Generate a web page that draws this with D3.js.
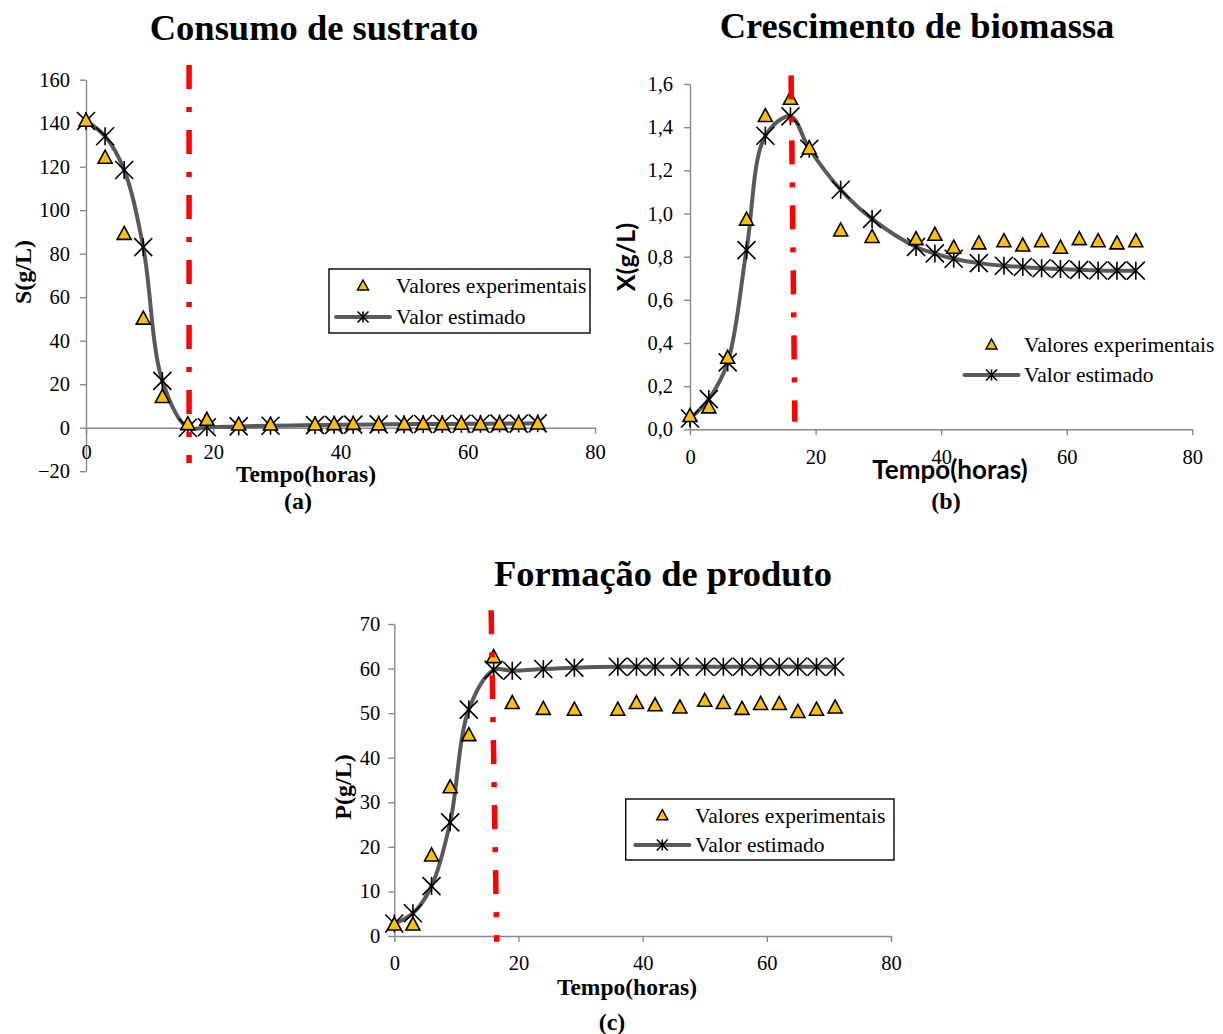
<!DOCTYPE html>
<html>
<head>
<meta charset="utf-8">
<script src="https://cdn.jsdelivr.net/npm/d3@7"></script>
<style>
  body { margin: 0; background: #fff; }
  svg { display: block; }
</style>
</head>
<body>
<div id="chart"></div>
<script>
// sampling times (h), shared by the three panels
const timeHours = [0, 3, 6, 9, 12, 16, 19, 24, 29, 36, 39, 42, 46, 50, 53, 56, 59, 62, 65, 68, 71];

// (a) substrate S (g/L)
const substrateExp = [141, 124, 89, 50, 14, 1.5, 3.5, 1.3, 1.3, 1.3, 1.5, 1.6, 1.4, 1.5, 1.6, 1.5, 1.7, 1.5, 1.6, 1.8, 1.8];
const substrateEst = [141, 134, 118.5, 83, 21.5, 0, 0.2, 0.6, 0.9, 1.2, 1.3, 1.4, 1.5, 1.6, 1.7, 1.7, 1.8, 1.8, 1.9, 1.9, 2];

// (b) biomass X (g/L)
const biomassExp = [0.06, 0.10, 0.33, 0.97, 1.45, 1.53, 1.30, 0.92, 0.89, 0.88, 0.90, 0.84, 0.86, 0.87, 0.85, 0.87, 0.84, 0.88, 0.87, 0.86, 0.87];
const biomassEst = [0.05, 0.14, 0.31, 0.83, 1.36, 1.45, 1.30, 1.11, 0.975, 0.845, 0.815, 0.79, 0.77, 0.758, 0.752, 0.746, 0.743, 0.739, 0.736, 0.735, 0.735];

// (c) product P (g/L)
const productExp = [2.5, 2.5, 18, 33.3, 45, 62.5, 52.2, 50.9, 50.7, 50.7, 52.2, 51.7, 51.2, 52.7, 52.2, 50.9, 52, 52, 50.2, 50.7, 51.2];
const productEst = [2.8, 5.1, 11.2, 25.5, 50.8, 59.7, 59.5, 59.9, 60.2, 60.4, 60.4, 60.4, 60.4, 60.4, 60.4, 60.4, 60.4, 60.4, 60.4, 60.4, 60.4];

// tick values
const timeTicks = [0, 20, 40, 60, 80];
const substrateTicks = [-20, 0, 20, 40, 60, 80, 100, 120, 140, 160];
const biomassTicks = [0, 0.2, 0.4, 0.6, 0.8, 1.0, 1.2, 1.4, 1.6];
const productTicks = [0, 10, 20, 30, 40, 50, 60, 70];

const legendLabels = ["Valores experimentais", "Valor estimado"];

// red dash-dot marker (start of stationary phase), [time, value] top and bottom
const cutSubstrate = [[16.2, 166.8], [16.2, -16.2]];
const cutBiomass = [[16.1, 1.64], [16.7, 0.035]];
const cutProduct = [[15.6, 73.1], [16.5, -1.3]];

const serif = "'Liberation Serif', 'Times New Roman', serif";
const sans = "Lato, 'Open Sans', sans-serif";
const axisGray = "#898989";
const lineGray = "#595959";
const gold = "#FFC000";

const svg = d3.select("#chart").append("svg")
  .attr("width", 1223)
  .attr("height", 1034)
  .style("background", "#fff");

function trianglePath(w, h) {
  return `M0,${-h * 0.6}L${w / 2},${h * 0.4}L${-w / 2},${h * 0.4}Z`;
}

function starPath(r) {
  return `M${-r},${-r}L${r},${r}M${-r},${r}L${r},${-r}M0,${-r}L0,${r}`;
}

function drawPanel(cfg) {
  const g = svg.append("g");

  const x = d3.scaleLinear().domain([0, 80]).range(cfg.xRange);
  const y = d3.scaleLinear().domain(cfg.yDomain).range(cfg.yRange);

  // y axis
  const yAxis = g.append("g")
    .attr("transform", `translate(${x(0)},0)`)
    .call(d3.axisLeft(y).tickValues(cfg.yTicks).tickSize(6).tickSizeOuter(0)
      .tickPadding(cfg.yPad).tickFormat(cfg.yFormat));

  // x axis crosses at y = 0
  const xAxis = g.append("g")
    .attr("transform", `translate(0,${y(0)})`)
    .call(d3.axisBottom(x).tickValues(timeTicks).tickSize(6).tickSizeOuter(0)
      .tickPadding(cfg.xPad).tickFormat(d3.format("d")));

  [yAxis, xAxis].forEach(a => {
    a.attr("font-family", serif).attr("font-size", 20.5);
    a.select(".domain").attr("stroke", axisGray).attr("stroke-width", 1.4);
    a.selectAll(".tick line").attr("stroke", axisGray).attr("stroke-width", 1.4);
    a.selectAll(".tick text").attr("fill", "#000");
  });

  const pts = timeHours.map((t, i) => ({ t: t, exp: cfg.exp[i], est: cfg.est[i] }));

  // fitted curve
  const line = d3.line()
    .x(d => x(d.t))
    .y(d => y(d.est))
    .curve(d3.curveCatmullRom.alpha(0.5));

  g.append("path")
    .datum(pts)
    .attr("d", line)
    .attr("fill", "none")
    .attr("stroke", lineGray)
    .attr("stroke-width", 4);

  g.selectAll(".star")
    .data(pts)
    .enter()
    .append("path")
    .attr("class", "star")
    .attr("transform", d => `translate(${x(d.t)},${y(d.est)})`)
    .attr("d", starPath(9))
    .attr("fill", "none")
    .attr("stroke", "#000")
    .attr("stroke-width", 1.6);

  g.selectAll(".tri")
    .data(pts)
    .enter()
    .append("path")
    .attr("class", "tri")
    .attr("transform", d => `translate(${x(d.t)},${y(d.exp)})`)
    .attr("d", trianglePath(14, 13))
    .attr("fill", gold)
    .attr("stroke", "#000")
    .attr("stroke-width", 1.6)
    .attr("stroke-linejoin", "miter");

  // red dash-dot line
  g.append("path")
    .datum(cfg.cut)
    .attr("d", d3.line().x(d => x(d[0])).y(d => y(d[1])))
    .attr("stroke", "#FF0000")
    .attr("stroke-width", 5.5)
    .attr("stroke-dasharray", "24,18,5,18")
    .attr("fill", "none");

  // title
  svg.append("text")
    .attr("x", cfg.title.x)
    .attr("y", cfg.title.y)
    .attr("text-anchor", "middle")
    .attr("font-family", serif)
    .attr("font-weight", "bold")
    .attr("font-size", 36.5)
    .text(cfg.title.text);

  // y label
  svg.append("text")
    .attr("transform", `translate(${cfg.yLabel.x},${cfg.yLabel.y}) rotate(-90)`)
    .attr("text-anchor", "middle")
    .attr("font-family", cfg.yLabel.font)
    .attr("font-weight", "bold")
    .attr("font-size", cfg.yLabel.size)
    .text(cfg.yLabel.text);

  // x label
  svg.append("text")
    .attr("x", cfg.xLabel.x)
    .attr("y", cfg.xLabel.y)
    .attr("text-anchor", "middle")
    .attr("font-family", cfg.xLabel.font)
    .attr("font-weight", "bold")
    .attr("font-size", cfg.xLabel.size)
    .text("Tempo(horas)");

  // panel letter
  svg.append("text")
    .attr("x", cfg.letter.x)
    .attr("y", cfg.letter.y)
    .attr("text-anchor", "middle")
    .attr("font-family", serif)
    .attr("font-weight", "bold")
    .attr("font-size", 24)
    .text(cfg.letter.text);

  // legend
  const L = cfg.legend;
  const lg = svg.append("g");
  if (L.box) {
    lg.append("rect")
      .attr("x", L.box[0]).attr("y", L.box[1])
      .attr("width", L.box[2]).attr("height", L.box[3])
      .attr("fill", "#fff")
      .attr("stroke", "#000")
      .attr("stroke-width", 1.4);
  }
  lg.append("path")
    .attr("transform", `translate(${L.symX},${L.row1})`)
    .attr("d", trianglePath(11, 10))
    .attr("fill", gold)
    .attr("stroke", "#000")
    .attr("stroke-width", 1.5);
  lg.append("line")
    .attr("x1", L.symX - 27).attr("x2", L.symX + 27)
    .attr("y1", L.row2).attr("y2", L.row2)
    .attr("stroke", lineGray)
    .attr("stroke-width", 4)
    .attr("stroke-linecap", "round");
  lg.append("path")
    .attr("transform", `translate(${L.symX},${L.row2})`)
    .attr("d", starPath(5.5))
    .attr("fill", "none")
    .attr("stroke", "#000")
    .attr("stroke-width", 1.6);
  lg.selectAll(".lt")
    .data(legendLabels)
    .enter()
    .append("text")
    .attr("x", L.textX)
    .attr("y", (d, i) => (i === 0 ? L.row1 : L.row2) + 7)
    .attr("font-family", serif)
    .attr("font-size", 21.5)
    .text(d => d);
}

drawPanel({
  xRange: [86, 595],
  yDomain: [-20, 160],
  yRange: [471.2, 79.7],
  yTicks: substrateTicks,
  yFormat: d3.format("d"),
  yPad: 10,
  xPad: 11,
  exp: substrateExp,
  est: substrateEst,
  cut: cutSubstrate,
  title: { text: "Consumo de sustrato", x: 314, y: 40 },
  yLabel: { text: "S(g/L)", x: 31, y: 272, font: serif, size: 24 },
  xLabel: { x: 306, y: 482, font: serif, size: 23.5 },
  letter: { text: "(a)", x: 298, y: 509 },
  legend: { box: [329, 269, 261, 64], symX: 363, row1: 286, row2: 317, textX: 396 }
});

drawPanel({
  xRange: [690, 1192.3],
  yDomain: [0, 1.6],
  yRange: [429.3, 84],
  yTicks: biomassTicks,
  yFormat: d => d3.format(".1f")(d).replace(".", ","),
  yPad: 11,
  xPad: 14,
  exp: biomassExp,
  est: biomassEst,
  cut: cutBiomass,
  title: { text: "Crescimento de biomassa", x: 917, y: 38 },
  yLabel: { text: "X(g/L)", x: 635, y: 257, font: sans, size: 25 },
  xLabel: { x: 950, y: 479, font: sans, size: 26 },
  letter: { text: "(b)", x: 946, y: 509 },
  legend: { box: null, symX: 991.5, row1: 345, row2: 375, textX: 1024 }
});

drawPanel({
  xRange: [394.3, 891],
  yDomain: [0, 70],
  yRange: [936, 624],
  yTicks: productTicks,
  yFormat: d3.format("d"),
  yPad: 8,
  xPad: 13,
  exp: productExp,
  est: productEst,
  cut: cutProduct,
  title: { text: "Formação de produto", x: 663, y: 586 },
  yLabel: { text: "P(g/L)", x: 351, y: 787, font: serif, size: 24 },
  xLabel: { x: 627, y: 995, font: serif, size: 23.5 },
  letter: { text: "(c)", x: 612, y: 1030 },
  legend: { box: [625.7, 799, 268.3, 61], symX: 662.3, row1: 815.7, row2: 845, textX: 695 }
});
</script>
</body>
</html>
